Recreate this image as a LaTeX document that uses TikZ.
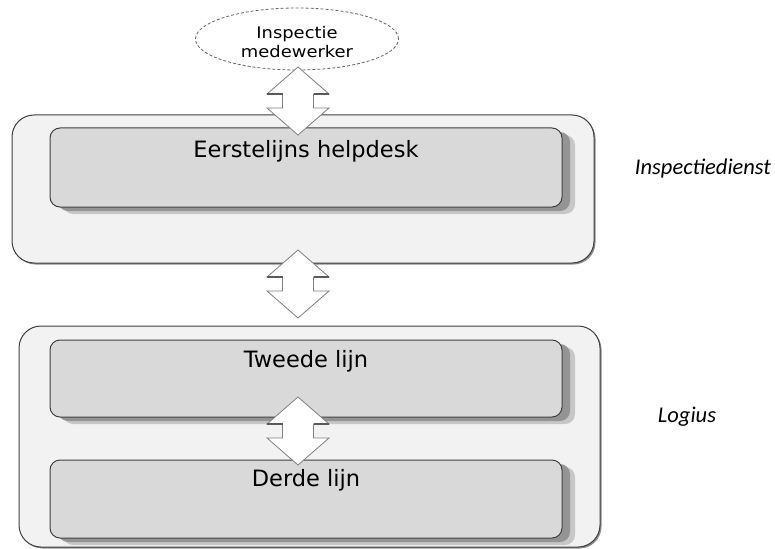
\documentclass[tikz,border=0pt]{standalone}
\usepackage{fontspec}
\setmainfont{DejaVu Sans}
\newfontfamily\labelfont{Carlito}
\newfontfamily\ellfont[FakeStretch=1.12]{DejaVu Sans}
\usetikzlibrary{shapes.geometric,shadows}
\definecolor{outerfill}{HTML}{F2F2F2}
\definecolor{innerfill}{HTML}{D9D9D9}
\definecolor{edgecol}{HTML}{404040}
\tikzset{
  outerbox/.style={draw=edgecol, line width=1pt, fill=outerfill, rounded corners=22pt,
    inner sep=0pt, general shadow={fill=black!45, shadow xshift=1.5pt, shadow yshift=-1.5pt}},
  innerbox/.style={draw=edgecol, line width=1pt, fill=innerfill, rounded corners=10pt,
    inner sep=0pt, minimum width=512pt,
    general shadow={fill=black!22, shadow xshift=13pt, shadow yshift=-7pt},
    general shadow={fill=black!42, shadow xshift=8pt, shadow yshift=-4pt}},
  boxtext/.style={font=\fontsize{22.5}{27}\selectfont, anchor=base, inner sep=0pt},
  sidelabel/.style={font=\labelfont\itshape\fontsize{22.5}{27}\selectfont, anchor=base, inner sep=0pt},
  dblarrow/.pic={
    \draw[draw=black!50, fill=white, line width=0.8pt, line join=miter]
      (0,0) -- (31,27) -- (15.5,27) -- (15.5,41) -- (31,41) -- (0,68)
      -- (-31,41) -- (-15.5,41) -- (-15.5,27) -- (-31,27) -- cycle;
    \draw[draw=black!65, line width=1.2pt] (15.5,27) -- (31,27) (-15.5,27) -- (-31,27);
  }
}
\begin{document}
\begin{tikzpicture}[x=1pt,y=-1pt]
\useasboundingbox[fill=white] (0,0) rectangle (775,548);
% outer containers
\node[outerbox, minimum width=582pt, minimum height=148pt] (outer1) at (303,189) {};
\node[outerbox, minimum width=581pt, minimum height=221pt] (outer2) at (309.5,436.5) {};
% inner boxes
\node[innerbox, minimum height=79pt] (helpdesk) at (306,167.5) {};
\node[innerbox, minimum height=77pt] (tweede) at (306,378.5) {};
\node[innerbox, minimum height=78pt] (derde) at (306,499) {};
% box texts
\node[boxtext] (thelp) at ([yshift=-30pt]helpdesk.north) {Eerstelijns helpdesk};
\node[boxtext] (ttwee) at ([yshift=-28pt]tweede.north) {Tweede lijn};
\node[boxtext] (tderde) at ([yshift=-27pt]derde.north) {Derde lijn};
% ellipse
\node[ellipse, draw=black!60, dash pattern=on 3pt off 2pt, fill=white, line width=0.8pt,
      minimum width=203pt, minimum height=62pt, inner sep=0pt] (ell) at (297,39) {};
\node[anchor=base, align=center, inner sep=0pt,
      font=\ellfont\fontsize{16}{19}\selectfont] (elltext) at (297,58) {Inspectie\\medewerker};
% double arrows
\coordinate (a1) at (298,67);
\coordinate (a2) at (298,250);
\coordinate (a3) at (298,397);
\pic at (a1) {dblarrow};
\pic at (a2) {dblarrow};
\pic at (a3) {dblarrow};
% side labels
\node[sidelabel] (linsp) at (703,175) {Inspectiedienst};
\node[sidelabel] (llog) at (687,422) {Logius};
\end{tikzpicture}
\end{document}
